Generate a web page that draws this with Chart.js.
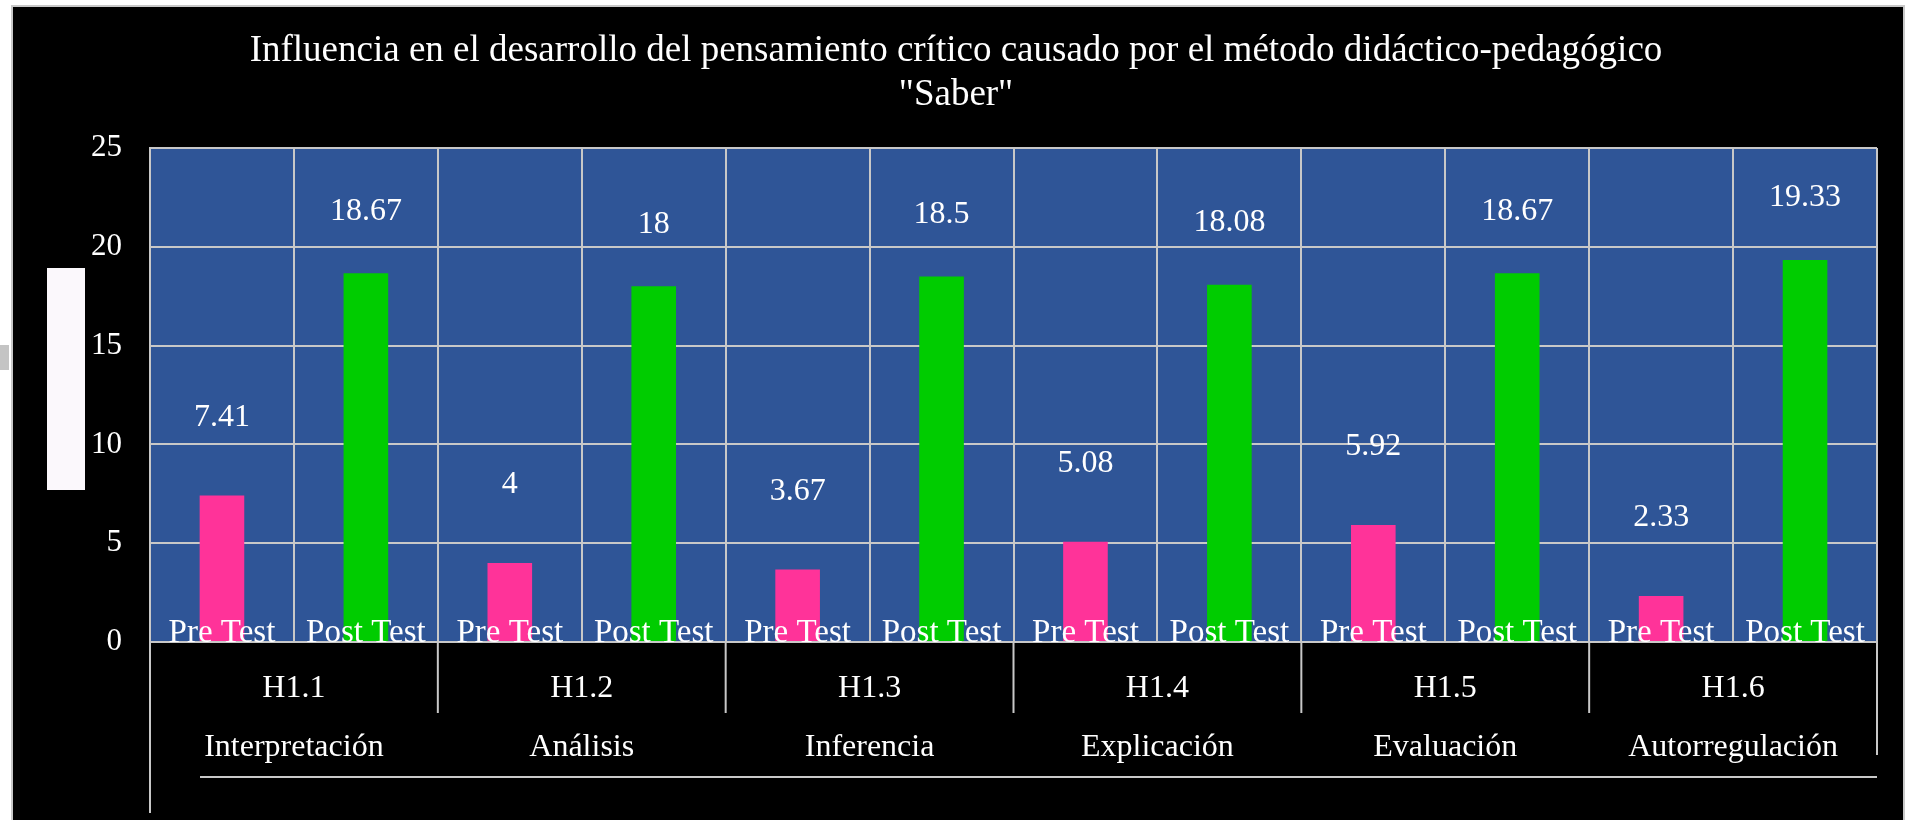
<!DOCTYPE html>
<html>
<head>
<meta charset="utf-8">
<script src="https://cdn.jsdelivr.net/npm/chart.js@4"></script>
<style>
  html, body { margin: 0; padding: 0; background: #fff; }
  #wrap { width: 1912px; height: 820px; }
</style>
</head>
<body>
<div id="wrap"><canvas id="chart" width="1912" height="820"></canvas></div>
<script>
// chart data
const groups = ['H1.1', 'H1.2', 'H1.3', 'H1.4', 'H1.5', 'H1.6'];
const skills = ['Interpretación', 'Análisis', 'Inferencia', 'Explicación', 'Evaluación', 'Autorregulación'];
const testLabels = ['Pre Test', 'Post Test'];
const preTest = [7.41, 4, 3.67, 5.08, 5.92, 2.33];
const postTest = [18.67, 18, 18.5, 18.08, 18.67, 19.33];
const yTicks = [0, 5, 10, 15, 20, 25];

// one category per bar, pre/post alternating
const categories = groups.flatMap(() => testLabels);
const preData = preTest.flatMap(v => [v, null]);
const postData = postTest.flatMap(v => [null, v]);

Chart.defaults.font.family = "'Liberation Serif', 'Times New Roman', serif";
Chart.defaults.color = '#ffffff';

const LINE = '#c8c8c8';

// backgrounds: page frame, black panel, stray white box, blue plot area
const backdrop = {
  id: 'backdrop',
  beforeDraw(chart) {
    const { ctx, chartArea: a } = chart;
    ctx.save();
    ctx.fillStyle = '#ffffff';
    ctx.fillRect(0, 0, chart.width, chart.height);
    ctx.fillStyle = '#c8c8c8';
    ctx.fillRect(11, 5, 1894, 815);
    ctx.fillStyle = '#c4c4c4';
    ctx.fillRect(0, 345, 9, 25);
    ctx.fillStyle = '#000000';
    ctx.fillRect(13, 7, 1890, 813);
    ctx.fillStyle = '#fbf8fc';
    ctx.fillRect(47, 268, 38, 222);
    ctx.fillStyle = '#2f5597';
    ctx.fillRect(a.left, a.top, a.right - a.left, a.bottom - a.top);
    ctx.restore();
  }
};

// value labels floating above bars
const valueLabels = {
  id: 'valueLabels',
  afterDatasetsDraw(chart) {
    const { ctx } = chart;
    const lift = [78, 62];
    ctx.save();
    ctx.font = "32px 'Liberation Serif'";
    ctx.fillStyle = '#ffffff';
    ctx.textAlign = 'center';
    ctx.textBaseline = 'middle';
    chart.data.datasets.forEach((ds, di) => {
      chart.getDatasetMeta(di).data.forEach((bar, i) => {
        const v = ds.data[i];
        if (v == null) return;
        ctx.fillText(String(v), bar.x, bar.y - lift[di]);
      });
    });
    ctx.restore();
  }
};

// table-like separators under the plot
const tableLines = {
  id: 'tableLines',
  afterDraw(chart) {
    const { ctx, chartArea: a } = chart;
    const x2 = chart.scales.x2;
    const half = (x2.getPixelForTick(1) - x2.getPixelForTick(0)) / 2;
    ctx.save();
    ctx.strokeStyle = LINE;
    ctx.lineWidth = 2;
    for (let i = 0; i <= groups.length; i++) {
      const x = i < groups.length ? x2.getPixelForTick(i) - half : x2.getPixelForTick(i - 1) + half;
      const end = i === 0 ? 813 : (i === groups.length ? 755 : 713);
      ctx.beginPath();
      ctx.moveTo(x, a.bottom);
      ctx.lineTo(x, end);
      ctx.stroke();
    }
    ctx.beginPath();
    ctx.moveTo(200, 777);
    ctx.lineTo(a.right, 777);
    ctx.stroke();
    ctx.restore();
  }
};

new Chart(document.getElementById('chart'), {
  type: 'bar',
  data: {
    labels: categories,
    datasets: [
      { label: 'Pre Test', data: preData, backgroundColor: '#ff3399', skipNull: true },
      { label: 'Post Test', data: postData, backgroundColor: '#00cc00', skipNull: true }
    ]
  },
  options: {
    responsive: false,
    animation: false,
    categoryPercentage: 1,
    barPercentage: 0.31,
    layout: { padding: { top: 7, left: 35, right: 35, bottom: 0 } },
    scales: {
      x: {
        grid: { color: LINE, lineWidth: 2, offset: true, drawTicks: false },
        border: { color: LINE, width: 2 },
        ticks: { color: '#ffffff', font: { size: 33 }, mirror: true, padding: -11, z: 1, autoSkip: false, maxRotation: 0 },
        afterFit(s) { s.height = 0; }
      },
      x2: {
        type: 'category',
        position: 'bottom',
        weight: 1,
        labels: groups.map((g, i) => [g, skills[i]]),
        grid: { display: false },
        border: { display: false },
        ticks: { color: '#ffffff', font: { size: 32, lineHeight: 1.85 }, padding: 9, autoSkip: false, maxRotation: 0 },
        afterFit(s) { s.height = 178; }
      },
      y: {
        min: 0, max: 25,
        afterBuildTicks(s) { s.ticks = yTicks.map(v => ({ value: v })); },
        grid: { color: LINE, lineWidth: 2, drawTicks: false },
        border: { color: LINE, width: 2 },
        ticks: { color: '#ffffff', font: { size: 31 }, padding: 28 },
        afterFit(s) { s.width = 115; }
      }
    },
    plugins: {
      legend: { display: false },
      tooltip: { enabled: false },
      title: {
        display: true,
        text: ['Influencia en el desarrollo del pensamiento crítico causado por el método didáctico-pedagógico', '"Saber"'],
        color: '#ffffff',
        font: { size: 37, weight: 'normal', lineHeight: 1.19 },
        padding: { top: 22, bottom: 31 }
      }
    }
  },
  plugins: [backdrop, valueLabels, tableLines]
});
</script>
</body>
</html>
